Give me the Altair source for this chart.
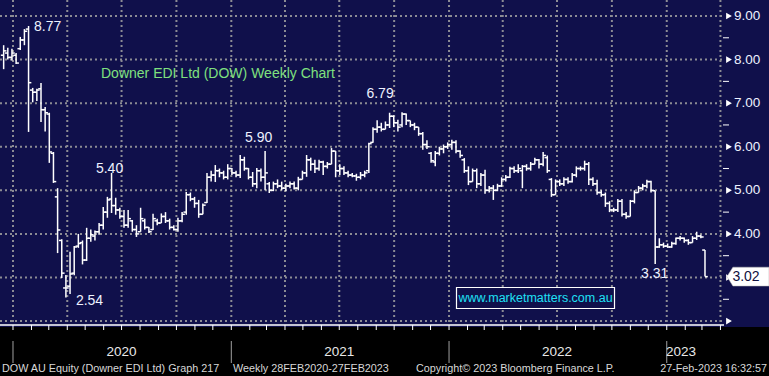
import altair as alt
import pandas as pd

# ---------------- data (weekly OHLC) ----------------
opens = [8.10, 8.15, 8.05, 8.10, 8.25, 8.45, 8.70, 7.30, 7.25, 7.33,
         6.85, 6.75, 5.85, 4.85, 3.85, 2.76, 2.80, 3.10, 3.72, 3.80,
         3.40, 3.90, 3.95, 4.05, 4.20, 4.50, 4.80, 4.65, 4.55, 4.40,
         4.20, 4.30, 4.10, 4.05, 4.30, 4.15, 4.10, 4.30, 4.25, 4.40,
         4.30, 4.15, 4.10, 4.30, 4.50, 4.90, 4.80, 4.70, 4.45, 4.72,
         5.30, 5.35, 5.45, 5.40, 5.30, 5.50, 5.40, 5.35, 5.70, 5.50,
         5.30, 5.15, 5.45, 5.30, 5.15, 5.00, 5.15, 5.10, 5.05, 5.10,
         5.15, 5.05, 5.25, 5.40, 5.70, 5.60, 5.50, 5.65, 5.55, 5.60,
         5.90, 5.45, 5.50, 5.40, 5.35, 5.33, 5.30, 5.35, 5.45, 6.10,
         6.40, 6.45, 6.40, 6.50, 6.70, 6.55, 6.50, 6.75, 6.60, 6.50,
         6.45, 6.30, 6.05, 5.85, 5.65, 5.85, 5.95, 6.00, 6.05, 6.10,
         5.90, 5.70, 5.45, 5.20, 5.45, 5.15, 5.35, 5.00, 5.05, 5.00,
         5.10, 5.25, 5.30, 5.50, 5.45, 5.45, 5.55, 5.50, 5.60, 5.70,
         5.60, 5.75, 5.25, 4.90, 5.20, 5.15, 5.25, 5.20, 5.35, 5.50,
         5.50, 5.60, 5.25, 5.15, 4.95, 4.90, 4.70, 4.55, 4.55, 4.75,
         4.45, 4.40, 4.75, 4.95, 5.05, 5.10, 5.20, 4.99, 3.70, 3.75,
         3.72, 3.70, 3.78, 3.90, 3.90, 3.85, 3.80, 3.90, 3.95, 3.63]
highs = [8.33, 8.27, 8.25, 8.15, 8.52, 8.70, 8.77, 7.35, 7.33, 7.46,
         6.91, 6.78, 5.88, 5.05, 3.88, 3.06, 3.59, 3.72, 4.00, 3.85,
         4.14, 4.10, 4.08, 4.25, 4.62, 4.85, 5.40, 4.83, 4.60, 4.55,
         4.55, 4.32, 4.20, 4.60, 4.35, 4.16, 4.46, 4.35, 4.47, 4.50,
         4.35, 4.20, 4.37, 4.50, 4.96, 4.95, 4.85, 4.78, 4.70, 5.40,
         5.45, 5.58, 5.50, 5.45, 5.60, 5.51, 5.45, 5.81, 5.77, 5.51,
         5.42, 5.51, 5.50, 5.90, 5.19, 5.20, 5.25, 5.20, 5.15, 5.20,
         5.20, 5.31, 5.45, 5.81, 5.75, 5.70, 5.70, 5.68, 5.65, 5.97,
         5.90, 5.60, 5.55, 5.45, 5.40, 5.38, 5.42, 5.45, 6.09, 6.45,
         6.61, 6.55, 6.58, 6.78, 6.72, 6.62, 6.79, 6.76, 6.60, 6.55,
         6.45, 6.34, 6.15, 5.88, 5.90, 6.00, 6.05, 6.10, 6.16, 6.15,
         5.92, 5.74, 5.55, 5.50, 5.50, 5.40, 5.47, 5.10, 5.12, 5.15,
         5.30, 5.35, 5.54, 5.55, 5.60, 5.58, 5.60, 5.65, 5.75, 5.72,
         5.88, 5.80, 5.28, 5.25, 5.25, 5.30, 5.30, 5.40, 5.55, 5.55,
         5.68, 5.65, 5.30, 5.24, 5.00, 4.95, 4.75, 4.60, 4.80, 4.80,
         4.50, 4.78, 5.00, 5.10, 5.15, 5.24, 5.22, 4.99, 3.90, 3.80,
         3.78, 3.82, 3.92, 3.95, 3.92, 3.88, 3.95, 4.05, 3.98, 3.63]
lows = [7.78, 8.00, 7.98, 7.90, 8.22, 8.33, 6.34, 7.02, 7.05, 6.57,
        6.35, 5.63, 5.17, 3.56, 2.99, 2.54, 2.62, 3.05, 3.68, 3.30,
        3.38, 3.82, 3.85, 3.98, 4.10, 4.37, 4.48, 4.44, 4.35, 4.14,
        4.14, 4.05, 3.93, 4.05, 4.10, 4.02, 4.09, 4.20, 4.25, 4.25,
        4.10, 4.08, 4.05, 4.27, 4.44, 4.75, 4.60, 4.37, 4.45, 4.71,
        5.20, 5.19, 5.30, 5.25, 5.25, 5.35, 5.30, 5.28, 5.45, 5.25,
        5.08, 5.05, 5.20, 5.00, 4.94, 4.98, 5.05, 5.00, 4.98, 5.05,
        5.02, 5.00, 5.25, 5.31, 5.45, 5.40, 5.45, 5.35, 5.50, 5.60,
        5.30, 5.35, 5.35, 5.30, 5.30, 5.22, 5.25, 5.30, 5.40, 6.09,
        6.32, 6.35, 6.40, 6.43, 6.45, 6.35, 6.45, 6.50, 6.45, 6.38,
        6.25, 5.93, 5.95, 5.63, 5.55, 5.80, 5.85, 5.95, 5.93, 5.85,
        5.75, 5.40, 5.12, 5.20, 5.05, 5.10, 4.92, 4.95, 4.78, 4.98,
        5.08, 5.20, 5.28, 5.40, 5.40, 5.05, 5.45, 5.45, 5.60, 5.50,
        5.55, 5.40, 4.85, 4.90, 5.10, 5.10, 5.15, 5.18, 5.30, 5.45,
        5.45, 5.12, 5.10, 4.90, 4.85, 4.62, 4.50, 4.50, 4.50, 4.40,
        4.35, 4.40, 4.70, 4.95, 5.00, 5.05, 4.95, 3.31, 3.68, 3.68,
        3.68, 3.68, 3.75, 3.85, 3.80, 3.75, 3.80, 3.86, 3.90, 3.02]
closes = [8.20, 8.05, 8.15, 7.92, 8.45, 8.65, 7.47, 7.25, 7.30, 6.85,
          6.78, 5.88, 5.20, 4.09, 3.10, 2.76, 3.08, 3.70, 3.78, 3.40,
          3.90, 3.98, 4.05, 4.20, 4.50, 4.78, 4.65, 4.55, 4.40, 4.20,
          4.35, 4.10, 4.00, 4.35, 4.15, 4.05, 4.35, 4.25, 4.40, 4.30,
          4.15, 4.10, 4.30, 4.45, 4.90, 4.80, 4.70, 4.45, 4.66, 5.30,
          5.35, 5.45, 5.40, 5.30, 5.50, 5.40, 5.35, 5.70, 5.50, 5.30,
          5.15, 5.45, 5.30, 5.40, 5.00, 5.15, 5.10, 5.05, 5.10, 5.15,
          5.05, 5.25, 5.40, 5.70, 5.60, 5.50, 5.65, 5.55, 5.60, 5.90,
          5.45, 5.50, 5.40, 5.35, 5.33, 5.30, 5.35, 5.40, 6.07, 6.40,
          6.45, 6.40, 6.50, 6.70, 6.55, 6.45, 6.75, 6.60, 6.50, 6.45,
          6.30, 6.05, 6.00, 5.68, 5.85, 5.95, 6.00, 6.05, 6.10, 5.90,
          5.80, 5.45, 5.20, 5.45, 5.15, 5.35, 5.00, 5.05, 5.00, 5.10,
          5.25, 5.30, 5.50, 5.45, 5.50, 5.55, 5.50, 5.60, 5.70, 5.60,
          5.80, 5.45, 4.90, 5.20, 5.15, 5.25, 5.20, 5.35, 5.50, 5.50,
          5.60, 5.25, 5.15, 4.95, 4.90, 4.70, 4.55, 4.55, 4.75, 4.45,
          4.40, 4.75, 4.95, 5.05, 5.10, 5.20, 5.00, 3.70, 3.75, 3.72,
          3.70, 3.78, 3.90, 3.90, 3.85, 3.80, 3.90, 3.95, 3.93, 3.02]

price_ticks = [2, 3, 4, 5, 6, 7, 8, 9]
price_labels = [4, 5, 6, 7, 8, 9]
minor_ticks = [2.5, 3.5, 4.5, 5.5, 6.5, 7.5, 8.5]
years = ["2020", "2021", "2022", "2023"]
year_starts = ["2020-01-01", "2021-01-01", "2022-01-01", "2023-01-01"]
year_label_dates = ["2020-07-01", "2021-07-01", "2022-07-01", "2023-01-25"]
title_text = "Downer EDI Ltd (DOW) Weekly Chart"
site_text = "www.marketmatters.com.au"
footer = ["DOW AU Equity (Downer EDI Ltd) Graph 217",
          "Weekly 28FEB2020-27FEB2023",
          "Copyright\u00a9 2023 Bloomberg Finance L.P.",
          "27-Feb-2023 16:32:57"]

# ---------------- helpers ----------------
ORIGIN = pd.Timestamp("2019-12-16 08:24")
DAYS_PER_BAR = 6.957


def bar_index(dates):
    return [(pd.Timestamp(d) - ORIGIN).total_seconds() / 86400 / DAYS_PER_BAR for d in dates]


quarters = pd.date_range("2020-01-01", "2023-04-01", freq="QS")
months = pd.date_range("2020-01-01", "2023-04-01", freq="MS")

n = len(opens)
df = pd.DataFrame({"week": list(range(n)), "open": opens, "high": highs,
                   "low": lows, "close": closes})

NAVY = "#10104b"
GRID = "#8c8c94"
FONT = "Liberation Sans"
LBL = "#eef2ff"

xs = alt.Scale(domain=[-0.88, 173.1], nice=False, zero=False)
ys = alt.Scale(domain=[1.91, 9.367], nice=False, zero=False)


def X(f):
    return alt.X(f, type="quantitative", scale=xs, axis=None)


def Y(f):
    return alt.Y(f, type="quantitative", scale=ys, axis=None)


one = pd.DataFrame({"a": [0]})
layers = []

# black strip at the bottom
layers.append(alt.Chart(one).mark_rect(color="black").encode(
    x=alt.value(0), x2=alt.value(769), y=alt.value(327), y2=alt.value(376)))

# grids
layers.append(alt.Chart(pd.DataFrame({"p": price_ticks})).mark_rule(
    color=GRID, strokeWidth=2, strokeDash=[2, 3]).encode(
    y=Y("p"), x=alt.value(0), x2=alt.value(722)))
layers.append(alt.Chart(pd.DataFrame({"q": bar_index(quarters)})).mark_rule(
    color=GRID, strokeWidth=2, strokeDash=[2, 3]).encode(
    x=X("q"), y=alt.value(0), y2=alt.value(325)))

# OHLC bars
base = alt.Chart(df)
layers.append(base.mark_rule(color="white", strokeWidth=1.5).encode(
    x=X("week"), y=Y("low"), y2="high"))
layers.append(base.mark_rule(color="white", strokeWidth=1.5, xOffset=-2.8).encode(
    x=X("week"), x2=alt.X2("week"), y=Y("open")))
layers.append(base.mark_rule(color="white", strokeWidth=1.5, x2Offset=2.8).encode(
    x=X("week"), x2=alt.X2("week"), y=Y("close")))

# annotations of highs / lows
ann = [
    (6, highs[6], "left", "middle", 5.5, 1),
    (26, highs[26], "center", "alphabetic", -2, 0),
    (63, highs[63], "center", "alphabetic", -6.5, -9),
    (96, highs[96], "center", "alphabetic", -22, -14),
    (15, lows[15], "left", "alphabetic", 10, 7.5),
    (157, lows[157], "center", "alphabetic", -0.5, 14),
]
for w, p, al, bl, dx, dy in ann:
    layers.append(alt.Chart(pd.DataFrame({"week": [w], "p": [p], "t": [f"{p:.2f}"]})).mark_text(
        align=al, baseline=bl, dx=dx, dy=dy, font=FONT, fontSize=14, color=LBL).encode(
        x=X("week"), y=Y("p"), text="t:N"))

# title and website box
layers.append(alt.Chart(pd.DataFrame({"t": [title_text]})).mark_text(
    align="left", baseline="alphabetic", font=FONT, fontSize=14, color="#7fe07f").encode(
    x=alt.value(101), y=alt.value(78), text="t:N"))
layers.append(alt.Chart(one).mark_rect(fill=NAVY, stroke="white", strokeWidth=1.2).encode(
    x=alt.value(456.5), x2=alt.value(614.5), y=alt.value(287.5), y2=alt.value(308.5)))
layers.append(alt.Chart(pd.DataFrame({"t": [site_text]})).mark_text(
    align="center", baseline="middle", font=FONT, fontSize=12.5, color="#1fe0f5").encode(
    x=alt.value(535.5), y=alt.value(298), text="t:N"))

# bottom axis
layers.append(alt.Chart(one).mark_rule(color="white", strokeWidth=1.5).encode(
    x=alt.value(0), x2=alt.value(724), y=alt.value(325)))
layers.append(alt.Chart(pd.DataFrame({"m": bar_index(months)})).mark_rule(
    color="white", strokeWidth=1).encode(x=X("m"), y=alt.value(325), y2=alt.value(330)))
layers.append(alt.Chart(pd.DataFrame({"s": bar_index(year_starts)})).mark_rule(
    color="#a0a0a0", strokeWidth=1).encode(x=X("s"), y=alt.value(341), y2=alt.value(363)))
layers.append(alt.Chart(pd.DataFrame({"m": bar_index(year_label_dates), "t": years})).mark_text(
    align="center", baseline="middle", font=FONT, fontSize=13.5, color="#e8e8e8").encode(
    x=X("m"), y=alt.value(352), text="t:N"))

# footer
foot_pos = [(2, "left"), (233, "left"), (416, "left"), (767, "right")]
for (px, al), t in zip(foot_pos, footer):
    layers.append(alt.Chart(pd.DataFrame({"t": [t]})).mark_text(
        align=al, baseline="middle", font=FONT, fontSize=10.8, color="#d8d8d8").encode(
        x=alt.value(px), y=alt.value(369), text="t:N"))

# right price axis
layers.append(alt.Chart(pd.DataFrame({"m": minor_ticks})).mark_rule(
    color="white", strokeWidth=1).encode(y=Y("m"), x=alt.value(723), x2=alt.value(729)))
layers.append(alt.Chart(pd.DataFrame({"p": price_ticks})).mark_point(
    shape="triangle-right", filled=True, color="white", size=45, opacity=1).encode(
    y=Y("p"), x=alt.value(729)))
layers.append(alt.Chart(pd.DataFrame({"p": price_labels,
                                      "t": [f"{v:.2f}" for v in price_labels]})).mark_text(
    align="left", baseline="middle", font=FONT, fontSize=13.5, color=LBL).encode(
    y=Y("p"), x=alt.value(734), text="t:N"))

# last price tag
last = pd.DataFrame({"p": [closes[-1]], "t": [f"{closes[-1]:.2f}"]})
tag_path = "M -1 0 L -0.72 -0.45 L 1 -0.45 L 1 0.45 L -0.72 0.45 Z"
layers.append(alt.Chart(last).mark_point(
    shape=tag_path, filled=True, fill="white", stroke="#b0b0b0", strokeWidth=0.5,
    size=1764, opacity=1).encode(y=Y("p"), x=alt.value(748)))
layers.append(alt.Chart(last).mark_text(
    align="center", baseline="middle", font=FONT, fontSize=14, color="#101040").encode(
    y=Y("p"), x=alt.value(746), text="t:N"))

chart = alt.layer(*layers).properties(
    width=722, height=325,
    autosize=alt.AutoSizeParams(type="none"),
    padding={"left": 0, "top": 0, "right": 47, "bottom": 51},
    background=NAVY,
).configure_view(strokeWidth=0)

chart.save("out.html", embed_options={"renderer": "svg", "actions": False})
